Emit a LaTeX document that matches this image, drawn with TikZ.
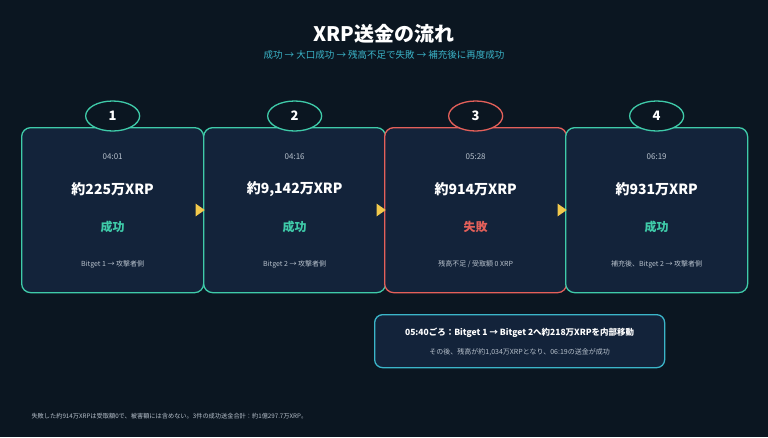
\documentclass[tikz,border=0pt]{standalone}
\usetikzlibrary{shapes.geometric}
\usepackage{fontspec}
\setmainfont{Noto Sans CJK JP}
\definecolor{bg}{HTML}{0B1621}
\definecolor{boxf}{HTML}{13233A}
\definecolor{teal}{HTML}{3FCBA9}
\definecolor{redc}{HTML}{E4605A}
\definecolor{cyan}{HTML}{3BB5C9}
\definecolor{yel}{HTML}{F2C94C}
\definecolor{gr}{HTML}{B7C1CC}
\begin{document}
\begin{tikzpicture}[x=1pt,y=-1pt,
 card/.style={draw=#1,line width=1.3pt,fill=boxf,rounded corners=9pt,minimum width=182pt,minimum height=165pt,anchor=north west,inner sep=0},
 num/.style={ellipse,draw=#1,line width=1.3pt,fill=bg,minimum width=54pt,minimum height=30pt,inner sep=0,text=white,font=\bfseries\fontsize{13}{13}\selectfont},
 tm/.style={text=gr,font=\fontsize{8}{9}\selectfont},
 amt/.style={text=white,font=\bfseries\fontsize{14}{15}\selectfont},
 st/.style={font=\bfseries\fontsize{12}{13}\selectfont},
 sm/.style={text=gr,font=\fontsize{7}{8}\selectfont},
 tri/.style={fill=yel,draw=none,isosceles triangle,isosceles triangle apex angle=70,minimum size=9pt,inner sep=0}]
\fill[bg] (0,0) rectangle (768,437);
\useasboundingbox (0,0) rectangle (768,437);
\node[text=white,font=\bfseries\fontsize{20}{22}\selectfont] (title) at (384,34) {XRP送金の流れ};
\node[text=cyan,font=\fontsize{9.5}{10}\selectfont] (sub) at (384,55) {成功 → 大口成功 → 残高不足で失敗 → 補充後に再度成功};
\foreach \i/\x/\c/\t/\a/\s/\sc/\f in {
 1/21/teal/04:01/{約225万XRP}/成功/teal/{Bitget 1 → 攻撃者側},
 2/203/teal/04:16/{約9,142万XRP}/成功/teal/{Bitget 2 → 攻撃者側},
 3/384/redc/05:28/{約914万XRP}/失敗/redc/{残高不足 / 受取額 0 XRP},
 4/565/teal/06:19/{約931万XRP}/成功/teal/{補充後、Bitget 2 → 攻撃者側}}{
 \node[card=\c] (c\i) at (\x,127) {};
 \node[num=\c] (n\i) at ([yshift=11pt]c\i.north) {\i};
 \node[tm] (t\i) at ([yshift=-30pt]c\i.north) {\t};
 \node[amt] (a\i) at ([yshift=-62pt]c\i.north) {\a};
 \node[st,text=\sc] (s\i) at ([yshift=-100pt]c\i.north) {\s};
 \node[sm] (f\i) at ([yshift=-137pt]c\i.north) {\f};
}
\foreach \i in {2,3,4}{\node[tri] (ar\i) at ([xshift=-4pt,yshift=-83pt]c\i.north west) {};}
\node[draw=cyan,line width=1.3pt,fill=boxf,rounded corners=8pt,minimum width=290pt,minimum height=53pt,anchor=north west] (info) at (374,314) {};
\node[text=white,font=\bfseries\fontsize{8.5}{9}\selectfont] (i1) at ([yshift=-19pt]info.north) {05:40ごろ：Bitget 1 → Bitget 2へ約218万XRPを内部移動};
\node[sm] (i2) at ([yshift=-38pt]info.north) {その後、残高が約1,034万XRPとなり、06:19の送金が成功};
\node[sm,anchor=west,font=\fontsize{6.2}{7}\selectfont] (note) at (28,416) {失敗した約914万XRPは受取額0で、被害額には含めない。3件の成功送金合計：約1億297.7万XRP。};
\end{tikzpicture}
\end{document}
